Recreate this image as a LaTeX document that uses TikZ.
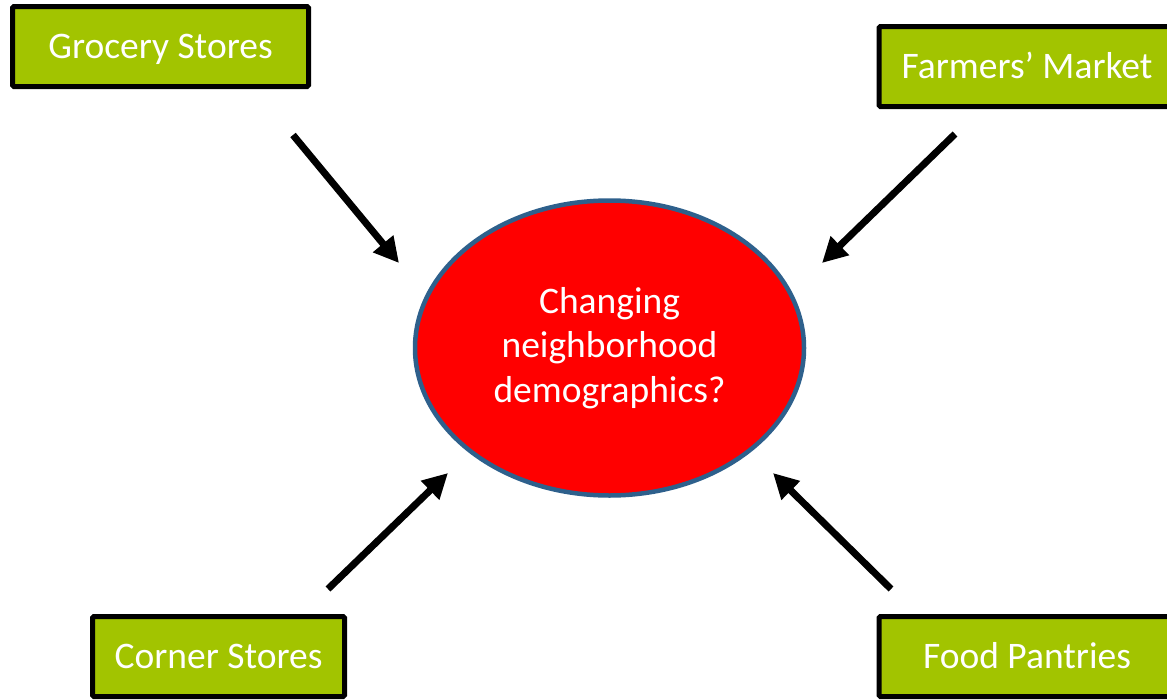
\documentclass[tikz,border=0pt]{standalone}
\usepackage{fontspec}
\setmainfont{Carlito}
\usetikzlibrary{arrows.meta,shapes.geometric}
\definecolor{boxgreen}{RGB}{162,196,0}
\definecolor{ellborder}{RGB}{46,96,140}
\begin{document}
\begin{tikzpicture}[x=1pt,y=-1pt,
  srcbox/.style={draw=black, line width=5pt, fill=boxgreen, rounded corners=1.5pt,
    minimum width=296pt, minimum height=80pt, inner sep=0pt, text=white,
    text height=24pt, text depth=0pt,
    font=\fontsize{37.5}{44}\selectfont},
  hub/.style={ellipse, draw=ellborder, line width=4.5pt, fill=red, text=white,
    minimum width=389pt, minimum height=295pt, inner sep=0pt, align=center,
    font=\fontsize{37.5}{44.5}\selectfont},
  flow/.style={line width=7pt, -{Triangle[length=25pt,width=25pt]}}]
\useasboundingbox (0,0) rectangle (1167,699);
\clip (0,0) rectangle (1167,699);
\node[srcbox] (grocery) at (160.5,46.5) {Grocery Stores};
\node[srcbox] (farmers) at (1027,66.5) {Farmers’ Market};
\node[srcbox, minimum width=252pt] (corner) at (218.5,656.5) {Corner Stores};
\node[srcbox] (pantries) at (1027,656.5) {Food Pantries};
\node[hub] (hub) at (609.5,348) {Changing\\neighborhood\\demographics?};
\coordinate (a1s) at (293,135); \coordinate (a1e) at (399,263);
\coordinate (a2s) at (955,134); \coordinate (a2e) at (822,263);
\coordinate (a3s) at (328,589); \coordinate (a3e) at (448,473);
\coordinate (a4s) at (891,589); \coordinate (a4e) at (773,473);
\draw[flow] (a1s) -- (a1e);
\draw[flow] (a2s) -- (a2e);
\draw[flow] (a3s) -- (a3e);
\draw[flow] (a4s) -- (a4e);
\end{tikzpicture}
\end{document}
